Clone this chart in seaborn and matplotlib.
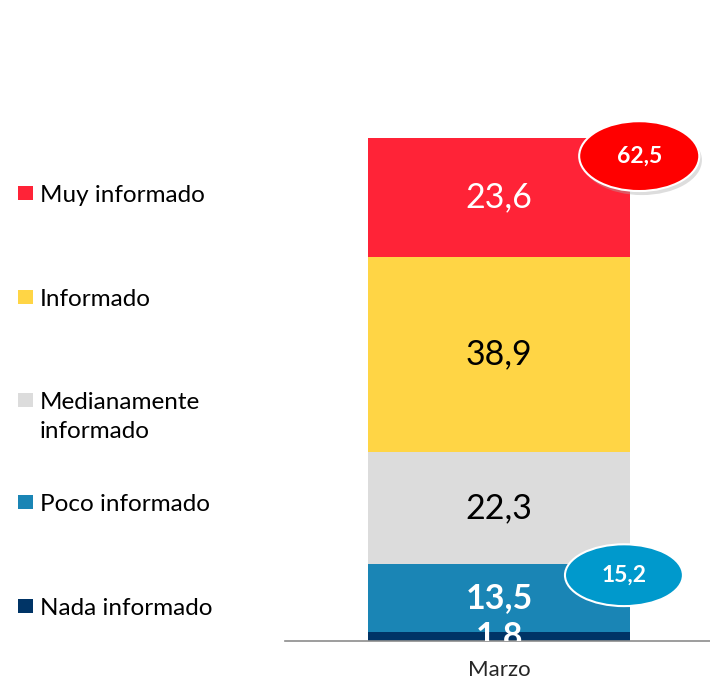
import numpy as np
import pandas as pd
import seaborn as sns
import matplotlib.pyplot as plt
from matplotlib.patches import Ellipse, Rectangle

# Data (bottom to top)
categories = ["Nada informado", "Poco informado", "Medianamente\ninformado", "Informado", "Muy informado"]
values = [1.8, 13.5, 22.3, 38.9, 23.6]
month = "Marzo"
bubble_values = [62.5, 15.2]

colors = ["#003466", "#1A85B5", "#DCDCDC", "#FFD545", "#FF2337"]
text_colors = ["white", "white", "black", "black", "white"]
text_weights = ["bold", "bold", "normal", "normal", "normal"]

sns.set_style("white")
plt.rcParams["font.family"] = ["Lato", "DejaVu Sans"]

fig = plt.figure(figsize=(7.1, 6.81), dpi=100)
ax = fig.add_axes([0.4014, 0.0587, 0.5986, 0.7386])

cum = np.cumsum(values)
df = pd.DataFrame({"mes": [month] * len(values), "cat": categories, "cum": cum})

# stacked bars: draw cumulative totals from the tallest down
for i in range(len(values) - 1, -1, -1):
    sns.barplot(data=df.iloc[[i]], x="mes", y="cum", color=colors[i], width=0.6,
                saturation=1, linewidth=0, ax=ax)

bottoms = cum - np.array(values)
for i, v in enumerate(values):
    ax.text(0, bottoms[i] + v / 2, f"{v:.1f}".replace(".", ","), ha="center", va="center",
            fontsize=24.5, color=text_colors[i], fontweight=text_weights[i], clip_on=True)

ax.set_xlim(-0.49, 0.483)
ax.set_ylim(0, cum[-1])

# bubbles
bubbles = [
    (0.321, 96.5, 0.275, 13.9, "#FF0000", bubble_values[0]),
    (0.286, 13.1, 0.270, 12.3, "#0099CC", bubble_values[1]),
]
for j, (bx, by, bw, bh, bc, bv) in enumerate(bubbles):
    if j == 0:
        sh = Ellipse((bx + 0.006, by - 0.8), bw, bh, facecolor="#AAAAAA", alpha=0.4,
                     edgecolor="none", clip_on=False, zorder=4)
        ax.add_patch(sh)
    e = Ellipse((bx, by), bw, bh, facecolor=bc, edgecolor="white", linewidth=1.5,
                clip_on=False, zorder=5)
    ax.add_patch(e)
    ax.text(bx, by, f"{bv:.1f}".replace(".", ","), ha="center", va="center", fontsize=16.5,
            fontweight="bold", color="white", zorder=6, clip_on=False)

# axes styling
for s in ["top", "right", "left"]:
    ax.spines[s].set_visible(False)
ax.spines["bottom"].set_color("#8C8C8C")
ax.spines["bottom"].set_linewidth(1.2)
ax.set_yticks([])
ax.set_xticks([0])
ax.set_xticklabels([month], fontsize=16)
ax.set_xticks([-0.49], minor=True)
ax.tick_params(axis="x", which="major", length=0, pad=14)
ax.tick_params(axis="x", which="minor", length=8, width=1.2, color="#8C8C8C", direction="out")
ax.set_xlabel("")
ax.set_ylabel("")

# legend (manual, top to bottom)
leg_y = [193, 297, 400, 502, 606]
for k, idx in enumerate(range(len(categories) - 1, -1, -1)):
    y = 1 - leg_y[k] / 681
    fig.patches.append(Rectangle((18 / 710, y - 7 / 681), 15 / 710, 14 / 681,
                                 transform=fig.transFigure, facecolor=colors[idx],
                                 edgecolor="none"))
    fig.text(40 / 710, y + 8 / 681, categories[idx], ha="left", va="top", fontsize=17.5,
             color="black", linespacing=1.5)

fig.savefig("out.png", dpi=100)
